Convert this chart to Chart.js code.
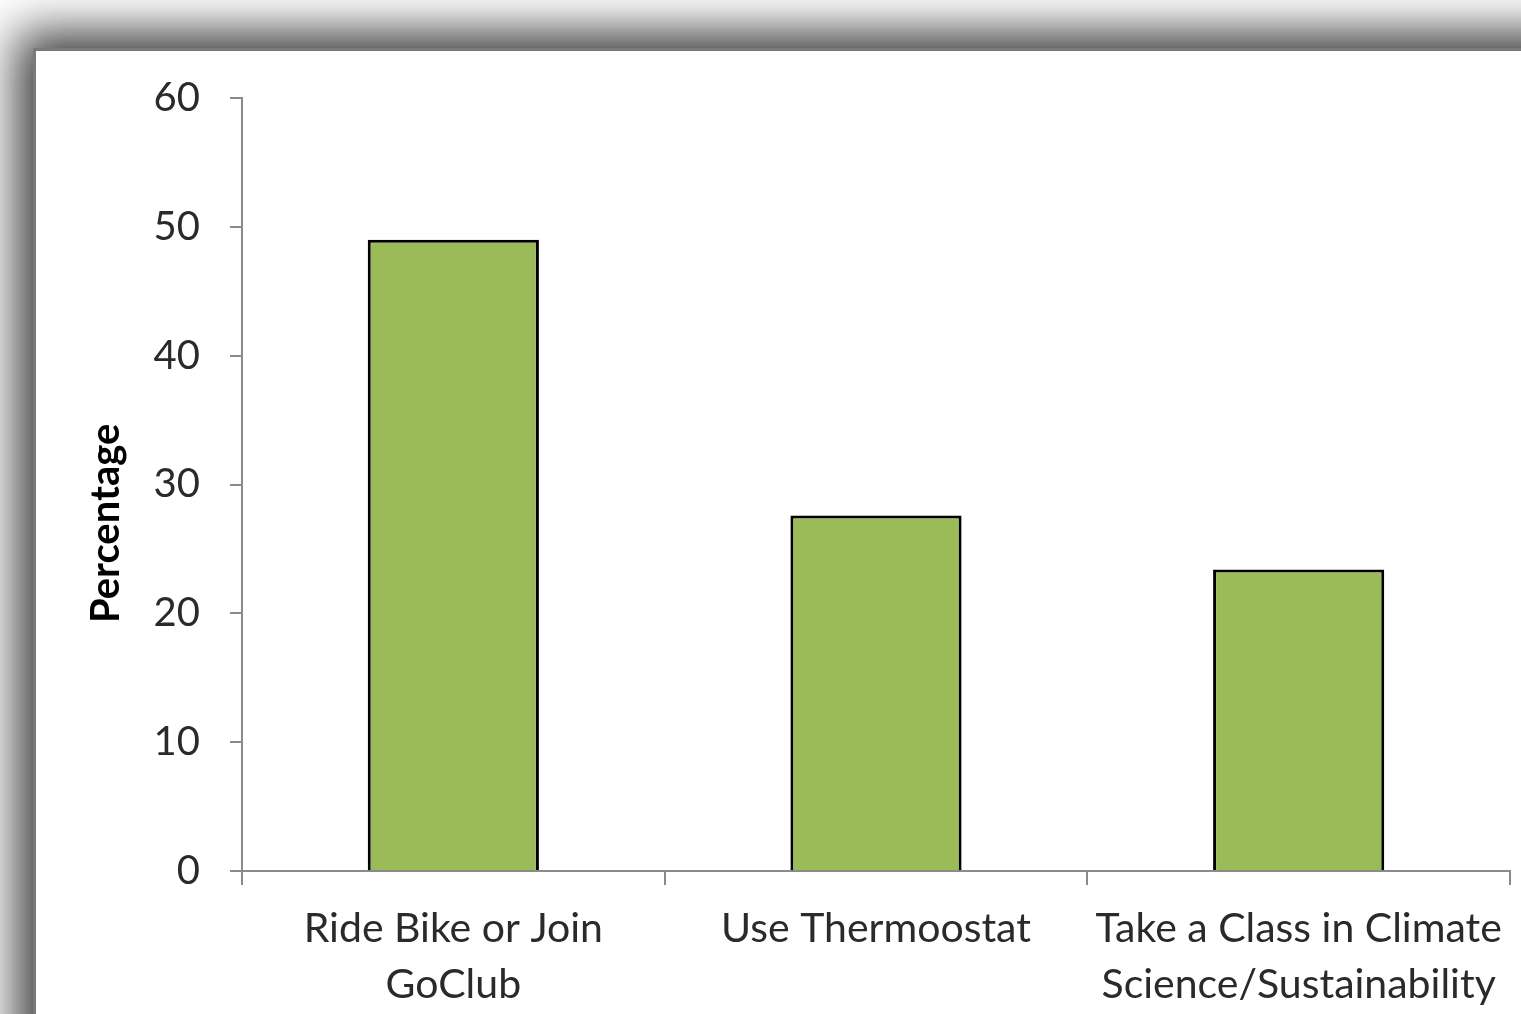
<!DOCTYPE html>
<html>
<head>
<meta charset="utf-8">
<script src="https://cdn.jsdelivr.net/npm/chart.js@4.4.0/dist/chart.umd.min.js"></script>
<style>
  html, body { margin: 0; padding: 0; background: #fff; overflow: hidden; }
  #frame {
    position: absolute; left: 33px; top: 48px; width: 1700px; height: 1200px;
    background: #fff; border-left: 3px solid #7a7a7a; border-top: 3px solid #7a7a7a;
    box-shadow: -4px -4px 46px 12px #3a3a3a;
  }
  #chart { position: absolute; left: 0; top: 0; }
</style>
</head>
<body>
<div id="frame"></div>
<canvas id="chart" width="1521" height="1014"></canvas>
<script>
// categories and values
const categories = [
  ['Ride Bike or Join', 'GoClub'],
  'Use Thermoostat',
  ['Take a Class in Climate', 'Science/Sustainability']
];
const percentages = [49, 27.6, 23.4];
const yTicks = [0, 10, 20, 30, 40, 50, 60];

const axisGray = '#8a8a8a';
const fontFamily = 'Lato, "Open Sans", sans-serif';

new Chart(document.getElementById('chart').getContext('2d'), {
  type: 'bar',
  data: {
    labels: categories,
    datasets: [{
      label: 'Percentage',
      data: percentages,
      backgroundColor: '#9bbb59',
      borderColor: '#000',
      borderWidth: 3,
      borderSkipped: 'bottom',
      barPercentage: 0.405,
      categoryPercentage: 1
    }]
  },
  options: {
    responsive: false,
    animation: false,
    layout: { padding: { top: 98, right: 11, left: 0, bottom: 0 } },
    plugins: { legend: { display: false }, tooltip: { enabled: false } },
    scales: {
      x: {
        grid: { drawOnChartArea: false, color: axisGray, lineWidth: 2, tickLength: 14, tickColor: axisGray },
        border: { color: axisGray, width: 2 },
        ticks: { color: '#2a2a2a', font: { family: fontFamily, size: 41, lineHeight: 1.38 }, padding: 15, maxRotation: 0, autoSkip: false },
        afterFit(scale) { scale.height = 143; }
      },
      y: {
        min: 0, max: 60,
        afterBuildTicks(scale) { scale.ticks = yTicks.map(v => ({ value: v })); },
        grid: { drawOnChartArea: false, color: axisGray, lineWidth: 2, tickLength: 12, tickColor: axisGray },
        border: { color: axisGray, width: 2 },
        ticks: { color: '#2a2a2a', font: { family: fontFamily, size: 40 }, padding: 30 },
        title: {
          display: true, text: 'Percentage        ', color: '#000',
          font: { family: fontFamily, size: 40, weight: 'bold' },
          padding: { top: 82, bottom: 0 }
        },
        afterFit(scale) { scale.width = 242; }
      }
    }
  }
});
</script>
</body>
</html>
